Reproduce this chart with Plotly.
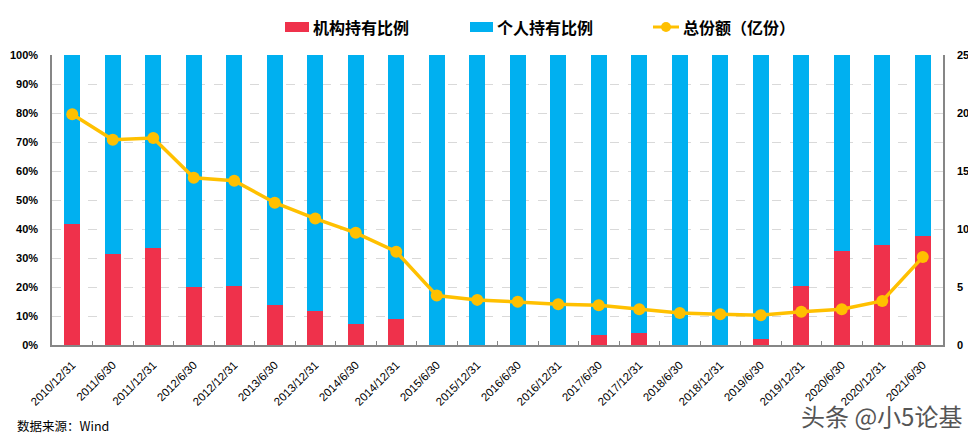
import plotly.graph_objects as go

dates = ["2010/12/31", "2011/6/30", "2011/12/31", "2012/6/30", "2012/12/31", "2013/6/30",
         "2013/12/31", "2014/6/30", "2014/12/31", "2015/6/30", "2015/12/31", "2016/6/30",
         "2016/12/31", "2017/6/30", "2017/12/31", "2018/6/30", "2018/12/31", "2019/6/30",
         "2019/12/31", "2020/6/30", "2020/12/31", "2021/6/30"]
inst_pct = [41.8, 31.5, 33.5, 20.0, 20.5, 13.8, 11.6, 7.4, 8.8, 0.0, 0.0, 0.0,
            0.0, 3.5, 4.0, 0.0, 0.0, 2.2, 20.5, 32.4, 34.4, 37.6]
indiv_pct = [round(100 - v, 1) for v in inst_pct]
total_shares = [19.9, 17.7, 17.85, 14.42, 14.16, 12.27, 10.9, 9.67, 8.04, 4.26, 3.89, 3.72,
                3.52, 3.43, 3.09, 2.75, 2.66, 2.57, 2.86, 3.09, 3.8, 7.58]

RED = "#EF314B"
BLUE = "#00B0F0"
GOLD = "#FFC000"
AXIS = "#868686"

fig = go.Figure()
fig.add_trace(go.Bar(x=dates, y=inst_pct, name="机构持有比例", marker_color=RED,
                     marker_line_width=0, showlegend=False))
fig.add_trace(go.Bar(x=dates, y=indiv_pct, name="个人持有比例", marker_color=BLUE,
                     marker_line_width=0, showlegend=False))
fig.add_trace(go.Scatter(x=dates, y=total_shares, name="总份额（亿份）", yaxis="y2",
                         mode="lines+markers", line=dict(color=GOLD, width=3.5),
                         marker=dict(color=GOLD, size=12), showlegend=False))

tick_font = dict(size=11, color="black", family="Arial, Liberation Sans", weight="bold")

fig.update_layout(
    width=976, height=443,
    margin=dict(l=44, r=41, t=47, b=106, autoexpand=False),
    paper_bgcolor="white", plot_bgcolor="white",
    barmode="stack", bargap=0.6,
    font=dict(family="Arial, Liberation Sans, Noto Sans CJK SC", color="black"),
    xaxis=dict(type="category", range=[-0.5, len(dates) - 0.5], tickangle=-45,
               tickfont=dict(size=11.5, color="black"), ticklabelstandoff=7,
               showline=True, linecolor=AXIS, linewidth=1.5, mirror=False,
               ticks="inside", ticklen=4, tickcolor=AXIS, tickson="boundaries",
               showgrid=False, automargin=False),
    yaxis=dict(range=[0, 100], tickvals=list(range(0, 101, 10)),
               ticktext=[f"{v}%" for v in range(0, 101, 10)],
               tickfont=tick_font,
               showline=True, linecolor=AXIS, linewidth=1.5,
               showgrid=True, gridcolor="#D9D9D9", griddash="dash", gridwidth=1,
               zeroline=False, ticklabelstandoff=10, automargin=False),
    yaxis2=dict(range=[0, 25], tickvals=list(range(0, 26, 5)), overlaying="y", side="right",
                tickfont=tick_font,
                showline=True, linecolor=AXIS, linewidth=1.5, showgrid=False,
                zeroline=False, ticklabelstandoff=10, automargin=False),
)

# Custom legend (paper coords relative to the 891x290 plot area)
fig.add_shape(type="rect", xref="paper", yref="paper", x0=(285-52)/891, x1=(309-52)/891,
              y0=(345-32)/290, y1=(345-22)/290, fillcolor=RED, line_width=0)
fig.add_shape(type="rect", xref="paper", yref="paper", x0=(470-52)/891, x1=(493-52)/891,
              y0=(345-32)/290, y1=(345-22)/290, fillcolor=BLUE, line_width=0)
fig.add_shape(type="line", xref="paper", yref="paper", x0=(653-52)/891, x1=(679-52)/891,
              y0=(345-27)/290, y1=(345-27)/290, line=dict(color=GOLD, width=3))
fig.add_shape(type="circle", xref="paper", yref="paper", x0=(661-52)/891, x1=(671-52)/891,
              y0=(345-32)/290, y1=(345-22)/290, fillcolor=GOLD, line_width=0)
legend_font = dict(family="Noto Sans CJK SC", size=16, color="black", weight="bold")
for label, xpx in [("机构持有比例", 311), ("个人持有比例", 495), ("总份额（亿份）", 681)]:
    fig.add_annotation(text=label, xref="paper", yref="paper", x=(xpx-52)/891, y=(345-27)/290,
                       xanchor="left", yanchor="middle", showarrow=False, font=legend_font)

fig.add_annotation(text="数据来源：Wind", xref="paper", yref="paper", x=(15-52)/891,
                   y=(345-425)/290, xanchor="left", yanchor="middle", showarrow=False,
                   font=dict(family="Noto Sans CJK SC", size=12.5, color="black"))
fig.add_annotation(text="头条 @小5论基", xref="paper", yref="paper", x=(964-52)/891,
                   y=(345-415)/290, xanchor="right", yanchor="middle", showarrow=False,
                   font=dict(family="Noto Sans CJK SC", size=24, color="#555555"))

fig.write_html("out.html")
